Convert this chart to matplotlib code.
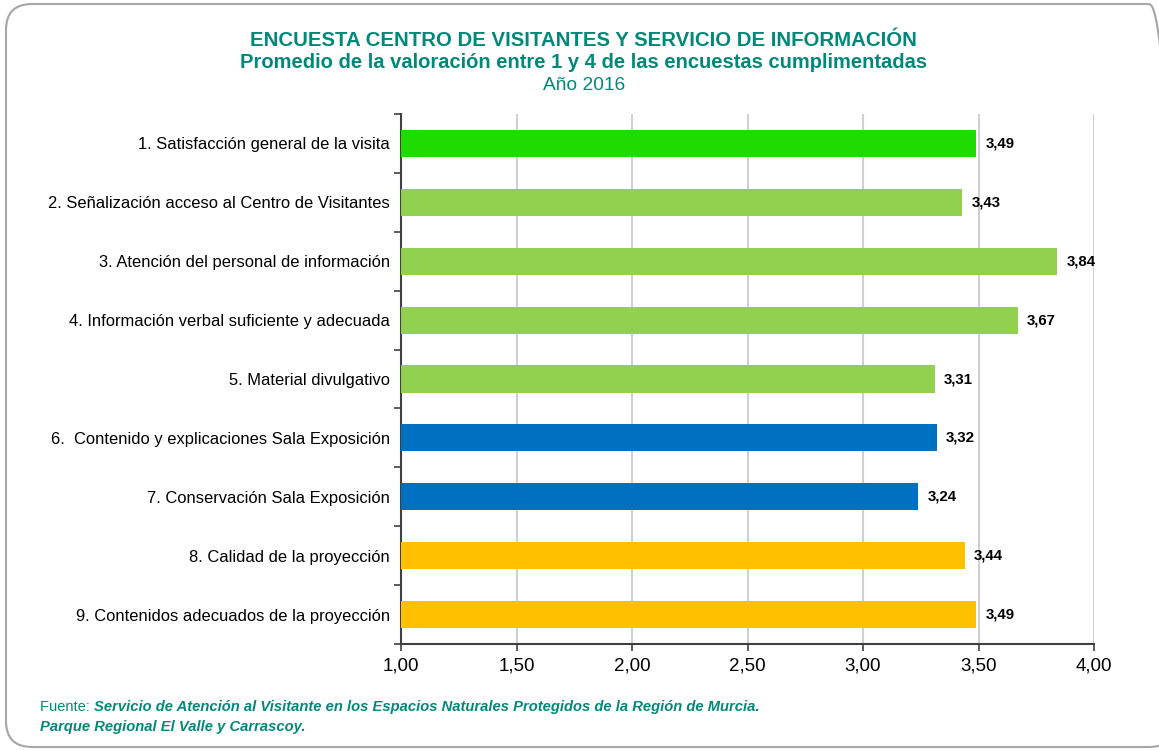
import matplotlib
matplotlib.use("Agg")
import matplotlib.pyplot as plt
from matplotlib.patches import FancyBboxPatch
from matplotlib.transforms import IdentityTransform
import numpy as np

categories = [
    "1. Satisfacción general de la visita",
    "2. Señalización acceso al Centro de Visitantes",
    "3. Atención del personal de información",
    "4. Información verbal suficiente y adecuada",
    "5. Material divulgativo",
    "6.  Contenido y explicaciones Sala Exposición",
    "7. Conservación Sala Exposición",
    "8. Calidad de la proyección",
    "9. Contenidos adecuados de la proyección",
]
values = [3.49, 3.43, 3.84, 3.67, 3.31, 3.32, 3.24, 3.44, 3.49]
bar_colors = ["#1EDC00", "#92D050", "#92D050", "#92D050", "#92D050",
              "#0070C0", "#0070C0", "#FFC000", "#FFC000"]
xticks = [1.0, 1.5, 2.0, 2.5, 3.0, 3.5, 4.0]

teal = "#00897B"
plt.rcParams['font.family'] = ['Liberation Sans', 'DejaVu Sans']

fig = plt.figure(figsize=(11.59, 7.51), dpi=100)
W, H = 1159, 751

# rounded frame (pixel coordinates)
frame = FancyBboxPatch((6, 4), 1175 - 6, 743,
                       boxstyle="round,pad=0,rounding_size=26",
                       transform=IdentityTransform(), facecolor="none",
                       edgecolor="#A6A6A6", linewidth=1.5, zorder=-10)
fig.patches.append(frame)

ax = fig.add_axes([401 / W, 1 - 644 / H, (1094 - 401) / W, (644 - 114) / H])
ax.set_facecolor("none")
n = len(categories)
y = np.arange(n)
ax.barh(y, [v - 1.0 for v in values], left=1.0, height=0.46,
        color=bar_colors, zorder=3)
for yi, v in zip(y, values):
    ax.text(v + 0.04, yi, f"{v:.2f}".replace(".", ","), va="center",
            ha="left", fontsize=10.8, fontweight="bold", color="black")

ax.set_xlim(1.0, 4.0)
ax.set_ylim(n - 0.5, -0.5)
ax.set_xticks(xticks)
ax.set_xticklabels([f"{t:.2f}".replace(".", ",") for t in xticks], fontsize=13.5)
ax.set_yticks(y)
ax.set_yticklabels(categories, fontsize=11.9)
ax.tick_params(axis="y", length=0, pad=13)
ax.set_yticks(np.arange(n + 1) - 0.5, minor=True)
ax.tick_params(axis="y", which="minor", length=5, color="#404040", width=1.2)
ax.tick_params(axis="x", length=5, color="#404040", width=1.2, pad=5)
ax.grid(axis="x", color="#D0D0D0", linewidth=1.5, zorder=0)
for s in ["top", "right"]:
    ax.spines[s].set_visible(False)
for s in ["left", "bottom"]:
    ax.spines[s].set_color("#404040")
    ax.spines[s].set_linewidth(1.5)
for lab in ax.get_yticklabels():
    lab.set_x(-0.0)

fig.text(583 / W, 1 - 40 / H, "ENCUESTA CENTRO DE VISITANTES Y SERVICIO DE INFORMACIÓN",
         ha="center", va="center", fontsize=14.7, fontweight="bold", color=teal)
fig.text(584 / W, 1 - 62 / H, "Promedio de la valoración entre 1 y 4 de las encuestas cumplimentadas",
         ha="center", va="center", fontsize=14.5, fontweight="bold", color=teal)
fig.text(584 / W, 1 - 85 / H, "Año 2016",
         ha="center", va="center", fontsize=13.8, color=teal)

t1 = fig.text(40 / W, 1 - 707 / H, "Fuente: ", ha="left", va="center",
              fontsize=10.5, color=teal)
fig.canvas.draw()
bb = t1.get_window_extent()
fig.text(bb.x1 / W, 1 - 707 / H,
         "Servicio de Atención al Visitante en los Espacios Naturales Protegidos de la Región de Murcia.",
         ha="left", va="center", fontsize=10.6, color=teal, fontweight="bold", fontstyle="italic")
fig.text(40 / W, 1 - 727 / H, "Parque Regional El Valle y Carrascoy.",
         ha="left", va="center", fontsize=10.6, color=teal, fontweight="bold", fontstyle="italic")

ax.tick_params(axis="y", which="major", pad=8)
fig.savefig("out.png", dpi=100)
